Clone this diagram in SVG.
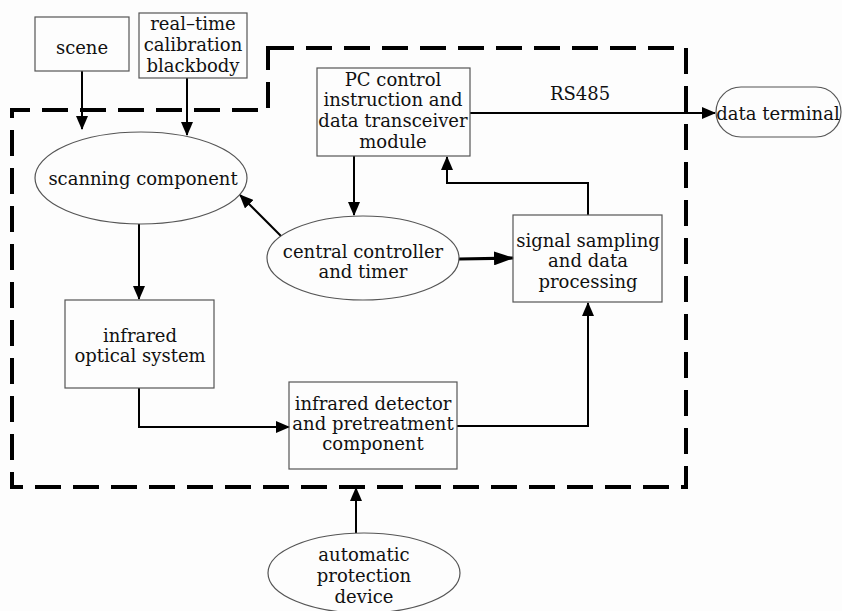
<svg xmlns="http://www.w3.org/2000/svg" width="842" height="611" viewBox="0 0 842 611">
<style>
.box{fill:none;stroke:#555;stroke-width:1.2}
.t{font-family:"DejaVu Serif","Liberation Serif",serif;font-size:18px;fill:#111;text-anchor:middle}
.c{fill:none;stroke:#000;stroke-width:2}
.thick{fill:none;stroke:#000;stroke-width:3.2}
.dash{fill:none;stroke:#000;stroke-width:4;stroke-dasharray:26 12}
</style>
<defs>
<marker id="a" markerUnits="userSpaceOnUse" markerWidth="14" markerHeight="12" refX="13" refY="6" orient="auto"><path d="M0,0 L14,6 L0,12 Z" fill="#000"/></marker>
<marker id="b" markerUnits="userSpaceOnUse" markerWidth="20" markerHeight="14" refX="19" refY="7" orient="auto"><path d="M0,0 L20,7 L0,14 Z" fill="#000"/></marker>
</defs>
<rect width="842" height="611" fill="#fdfdfd"/>
<g id="boundary"><path class="dash" d="M268,48 L686,48 L686,487 L12,487 L12,110 L268,110 Z"/></g>
<g id="connectors">
<path class="c" d="M82,71 L82,129" marker-end="url(#a)"/>
<path class="c" d="M187,78 L187,135" marker-end="url(#a)"/>
<path class="c" d="M470,113 L715,113" marker-end="url(#a)"/>
<path class="c" d="M354,156 L354,215" marker-end="url(#a)"/>
<path class="c" d="M588,215 L588,183 L447,183 L447,157" marker-end="url(#a)"/>
<path class="c" d="M281,236 L240,195" marker-end="url(#a)"/>
<path class="thick" d="M459,259 L513,258" marker-end="url(#b)"/>
<path class="c" d="M139,224 L139,299" marker-end="url(#a)"/>
<path class="c" d="M139,388 L139,427 L289,427" marker-end="url(#a)"/>
<path class="c" d="M457,426 L588,426 L588,303" marker-end="url(#a)"/>
<path class="c" d="M356,533 L356,488" marker-end="url(#a)"/>
<text class="t" x="580" y="100">RS485</text>
</g>
<g id="scene"><rect class="box" x="35" y="17" width="94" height="54"/><text class="t" x="82" y="54">scene</text></g>
<g id="blackbody"><rect class="box" x="139" y="13" width="108" height="65"/><text class="t" x="193" y="30">real–time</text><text class="t" x="193" y="51">calibration</text><text class="t" x="193" y="72">blackbody</text></g>
<g id="pc"><rect class="box" x="317" y="68" width="153" height="88"/><text class="t" x="393" y="86">PC control</text><text class="t" x="393" y="106">instruction and</text><text class="t" x="393" y="127">data transceiver</text><text class="t" x="393" y="148">module</text></g>
<g id="terminal"><rect class="box" x="716" y="87" width="125" height="50" rx="25"/><text class="t" x="778" y="120">data terminal</text></g>
<g id="scanning"><ellipse class="box" cx="141" cy="178" rx="106" ry="46"/><text class="t" x="143" y="185">scanning component</text></g>
<g id="central"><ellipse class="box" cx="363" cy="258" rx="96" ry="42"/><text class="t" x="363" y="258">central controller</text><text class="t" x="363" y="278">and timer</text></g>
<g id="signal"><rect class="box" x="513" y="215" width="149" height="87"/><text class="t" x="588" y="247">signal sampling</text><text class="t" x="588" y="267">and data</text><text class="t" x="588" y="288">processing</text></g>
<g id="optical"><rect class="box" x="65" y="300" width="149" height="88"/><text class="t" x="140" y="342">infrared</text><text class="t" x="140" y="362">optical system</text></g>
<g id="detector"><rect class="box" x="289" y="382" width="168" height="87"/><text class="t" x="373" y="410">infrared detector</text><text class="t" x="373" y="430">and pretreatment</text><text class="t" x="373" y="450">component</text></g>
<g id="protection"><ellipse class="box" cx="364" cy="573" rx="96" ry="40"/><text class="t" x="364" y="561">automatic</text><text class="t" x="364" y="582">protection</text><text class="t" x="364" y="603">device</text></g>
</svg>
